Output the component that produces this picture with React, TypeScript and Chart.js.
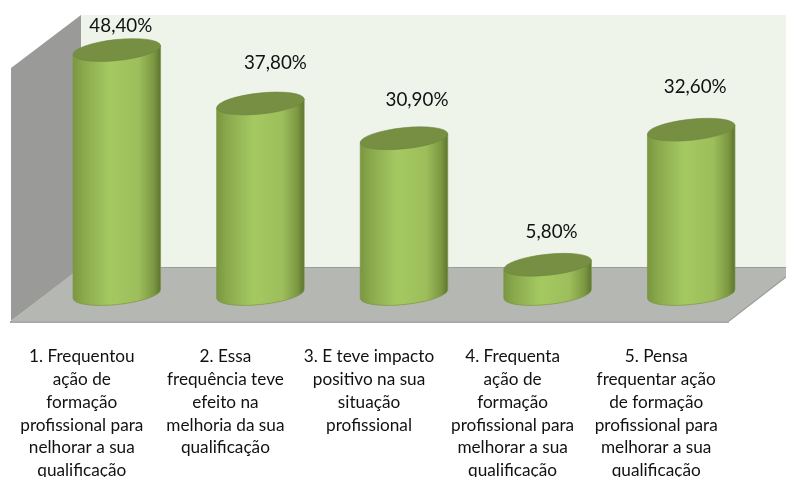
import React, { useEffect, useRef } from "react";
import { Chart, registerables } from "chart.js";

Chart.register(...registerables);

const categories: string[][] = [
  ["1. Frequentou", "ação de", "formação", "profissional para", "nelhorar a sua", "qualificação"],
  ["2. Essa", "frequência teve", "efeito na", "melhoria da sua", "qualificação"],
  ["3. E teve impacto", "positivo na sua", "situação", "profissional"],
  ["4. Frequenta", "ação de", "formação", "profissional para", "melhorar a sua", "qualificação"],
  ["5. Pensa", "frequentar ação", "de formação", "profissional para", "melhorar a sua", "qualificação"],
];
const values = [48.4, 37.8, 30.9, 5.8, 32.6];
const valueLabels = ["48,40%", "37,80%", "30,90%", "5,80%", "32,60%"];
const labelShiftX = [4, 15, 13, 4, 4];
const labelShiftY = [-24, -40.5, -38, -33, -43];

const FONT = "Lato, Carlito, Calibri, sans-serif";
const TILT = (-6 * Math.PI) / 180;
const RY = 10.5;

function polygon(ctx: CanvasRenderingContext2D, pts: number[][], fill: string) {
  ctx.beginPath();
  pts.forEach((p, i) => (i ? ctx.lineTo(p[0], p[1]) : ctx.moveTo(p[0], p[1])));
  ctx.closePath();
  ctx.fillStyle = fill;
  ctx.fill();
}

const scenePlugin = {
  id: "scene3d",
  beforeDatasetsDraw(chart: any) {
    const ctx: CanvasRenderingContext2D = chart.ctx;
    ctx.save();
    polygon(ctx, [[81, 15], [786, 15], [786, 268], [81, 268]], "#eef4ea");
    polygon(ctx, [[11, 68], [81, 15], [81, 268], [11, 321]], "#9a9b98");
    polygon(ctx, [[11, 321], [81, 267], [786, 267], [786, 277], [729, 321]], "#b5b7b3");
    ctx.strokeStyle = "#9b9d99";
    ctx.lineWidth = 1.2;
    ctx.beginPath();
    ctx.moveTo(72, 267.5);
    ctx.lineTo(786, 267.5);
    ctx.moveTo(786, 277);
    ctx.lineTo(729, 321);
    ctx.stroke();
    ctx.strokeStyle = "#8c8e8b";
    ctx.lineWidth = 1.6;
    ctx.beginPath();
    ctx.moveTo(10, 322);
    ctx.lineTo(729, 322);
    ctx.stroke();
    ctx.restore();
  },
  beforeDatasetDraw(chart: any, args: any) {
    const ctx: CanvasRenderingContext2D = chart.ctx;
    const meta = chart.getDatasetMeta(args.index);
    meta.data.forEach((bar: any) => {
      const { x, y, base, width } = bar.getProps(["x", "y", "base", "width"], true);
      const rx = width / 2;
      const dx = rx * Math.cos(TILT);
      const dy = rx * Math.sin(TILT);
      const g = ctx.createLinearGradient(x - rx, 0, x + rx, 0);
      g.addColorStop(0, "#7a9740");
      g.addColorStop(0.12, "#8aa84c");
      g.addColorStop(0.42, "#a5c962");
      g.addColorStop(0.75, "#9dbe5b");
      g.addColorStop(0.92, "#7c9842");
      g.addColorStop(1, "#5c7430");
      ctx.save();
      ctx.beginPath();
      ctx.moveTo(x - dx, y - dy);
      ctx.lineTo(x - dx, base - dy);
      ctx.ellipse(x, base, rx, RY, TILT, Math.PI, 0, true);
      ctx.lineTo(x + dx, y + dy);
      ctx.closePath();
      ctx.fillStyle = g;
      ctx.fill();
      ctx.strokeStyle = "rgba(125,150,70,0.7)";
      ctx.lineWidth = 1;
      ctx.stroke();
      ctx.beginPath();
      ctx.ellipse(x, y, rx, RY, TILT, 0, Math.PI * 2);
      ctx.fillStyle = "#778f43";
      ctx.fill();
      ctx.strokeStyle = "rgba(110,135,60,0.6)";
      ctx.stroke();
      ctx.restore();
    });
    return false;
  },
  afterDatasetsDraw(chart: any) {
    const ctx: CanvasRenderingContext2D = chart.ctx;
    const meta = chart.getDatasetMeta(0);
    ctx.save();
    ctx.font = `18.8px ${FONT}`;
    ctx.fillStyle = "#111111";
    ctx.textAlign = "center";
    ctx.textBaseline = "middle";
    meta.data.forEach((bar: any, i: number) => {
      ctx.fillText(valueLabels[i], bar.x + labelShiftX[i], bar.y + labelShiftY[i]);
    });
    ctx.restore();
  },
};

export default function App() {
  const ref = useRef<HTMLCanvasElement>(null);
  useEffect(() => {
    const chart = new Chart(ref.current!, {
      type: "bar",
      data: {
        labels: categories,
        datasets: [
          {
            data: values,
            backgroundColor: "#a5c962",
            barThickness: 88,
          },
        ],
      },
      options: {
        animation: false,
        responsive: false,
        devicePixelRatio: 1,
        layout: { padding: { left: 45, right: 23, top: 42, bottom: 0 } },
        plugins: { legend: { display: false }, tooltip: { enabled: false } },
        scales: {
          y: { display: false, min: 0, max: 50 },
          x: {
            grid: { display: false },
            border: { display: false },
            afterFit(scale: any) {
              scale.height = 183;
              scale.paddingLeft = 0;
              scale.paddingRight = 0;
            },
            ticks: {
              autoSkip: false,
              maxRotation: 0,
              minRotation: 0,
              padding: 43,
              labelOffset: -35,
              color: "#111111",
              font: { family: FONT, size: 17.2, lineHeight: 1.33 },
            },
          },
        },
      },
      plugins: [scenePlugin],
    } as any);
    return () => chart.destroy();
  }, []);
  return (
    <div style={{ position: "absolute", left: 0, top: 0, width: 786, height: 477, background: "#fff" }}>
      <canvas ref={ref} width={786} height={477} style={{ display: "block" }} />
    </div>
  );
}
